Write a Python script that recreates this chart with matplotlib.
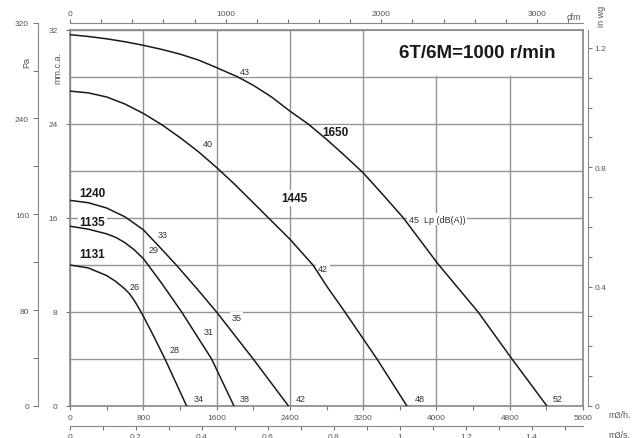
import matplotlib.pyplot as plt
from matplotlib.patches import Rectangle
from matplotlib.ticker import MultipleLocator, FuncFormatter

plt.rcParams['font.family'] = ['Liberation Sans', 'DejaVu Sans']

# curvas caudal (m3/h) - presion (mm.c.a.)
flow_1650 = [0, 200, 400, 600, 800, 1000, 1200, 1400, 1600, 1833, 2000, 2200, 2400, 2600, 2800, 3000,
             3200, 3420, 3640, 4016, 4455, 4825, 5206]
pres_1650 = [31.6, 31.45, 31.25, 31.0, 30.7, 30.35, 29.95, 29.45, 28.8, 28.0, 27.3, 26.3, 25.1, 24.0, 22.7, 21.3,
             19.85, 17.95, 16.0, 12.1, 8.0, 4.0, 0.0]

flow_1445 = [0, 200, 400, 600, 800, 1000, 1200, 1400, 1600, 1800, 2000, 2200, 2400, 2652, 2820, 3001, 3351, 3678]
pres_1445 = [26.8, 26.65, 26.3, 25.7, 24.9, 23.95, 22.85, 21.65, 20.3, 18.85, 17.3, 15.75, 14.2, 12.0, 10.0, 8.0, 4.0, 0.0]

flow_1240 = [0, 200, 400, 600, 800, 1000, 1160, 1389, 1600, 2000, 2385]
pres_1240 = [17.5, 17.3, 16.85, 16.1, 15.0, 13.35, 12.0, 9.95, 8.0, 4.0, 0.0]

flow_1135 = [0, 200, 400, 500, 600, 700, 800, 900, 1000, 1219, 1546, 1790]
pres_1135 = [15.3, 15.05, 14.65, 14.35, 13.9, 13.3, 12.55, 11.5, 10.45, 8.0, 4.0, 0.0]

flow_1131 = [0, 200, 400, 500, 600, 650, 700, 750, 800, 850, 900, 1037, 1273]
pres_1131 = [12.0, 11.75, 11.1, 10.6, 9.95, 9.55, 9.0, 8.35, 7.65, 6.9, 6.15, 4.0, 0.0]

curves = [(flow_1650, pres_1650), (flow_1445, pres_1445), (flow_1240, pres_1240),
          (flow_1135, pres_1135), (flow_1131, pres_1131)]

# nivel sonoro Lp dB(A) sobre las curvas
lp_labels = [('43', 1855, 28.5), ('40', 1448, 22.3), ('45  Lp (dB(A))', 3700, 15.9),
             ('42', 2707, 11.7), ('33', 953, 14.6), ('29', 855, 13.3), ('26', 655, 10.2),
             ('35', 1764, 7.5), ('31', 1455, 6.3), ('28', 1091, 4.8),
             ('34', 1346, 0.6), ('38', 1855, 0.6), ('42', 2467, 0.6), ('48', 3766, 0.6), ('52', 5270, 0.6)]
model_labels = [('1650', 2750, 23.3), ('1445', 2310, 17.7), ('1240', 102, 18.1),
                ('1135', 102, 15.7), ('1131', 102, 12.9)]
title = '6T/6M=1000 r/min'

W, H = 635, 439
fig = plt.figure(figsize=(W / 100, H / 100), dpi=100)
ax = fig.add_axes([70 / W, 32 / H, 513 / W, 376 / H])
ax.set_xlim(0, 5600)
ax.set_ylim(0, 32)

gc = '#939393'
tc = '#555555'
ax.set_axisbelow(True)
ax.xaxis.set_major_locator(MultipleLocator(800))
ax.xaxis.set_minor_locator(MultipleLocator(400))
ax.yaxis.set_major_locator(MultipleLocator(8))
ax.yaxis.set_minor_locator(MultipleLocator(4))
ax.grid(True, which='major', color=gc, lw=1.0)
ax.grid(True, which='minor', axis='y', color=gc, lw=1.0)
ax.tick_params(axis='both', which='both', labelsize=6, labelcolor=tc, color='#777777', width=0.8, direction='out')
ax.tick_params(axis='x', which='both', length=3, pad=2.5)
ax.tick_params(axis='y', which='major', length=3, pad=6)
ax.tick_params(axis='y', which='minor', length=0)
for s in ax.spines.values():
    s.set_color('#888888')
    s.set_linewidth(1.2)

# tapa de la rejilla tras el titulo
ax.add_patch(Rectangle((3215, 28.12), 2370, 3.83, facecolor='white', edgecolor='none', zorder=1))

for q, p in curves:
    ax.plot(q, p, color='#1a1a1a', lw=1.1, zorder=3, solid_joinstyle='round')

box = dict(facecolor='white', edgecolor='none', pad=1.2)
for t, x, y in lp_labels:
    ax.text(x, y, t, fontsize=6.5, color='#333333', ha='left', va='center', zorder=2, bbox=box)
for t, x, y in model_labels:
    ax.text(x, y, t, fontsize=8.5, fontweight='bold', color='#1a1a1a', ha='left', va='center', zorder=2, bbox=box)
ax.text(4443, 30.1, title, fontsize=13.5, fontweight='bold', color='#1a1a1a', ha='center', va='center', zorder=2)

fmt = FuncFormatter(lambda v, pos: '%g' % round(v, 3))

# cfm arriba
top = ax.secondary_xaxis(1 + 7 / 376, functions=(lambda q: q / 1.699, lambda c: c * 1.699))
top.xaxis.set_major_locator(MultipleLocator(1000))
top.xaxis.set_minor_locator(MultipleLocator(200))
top.tick_params(which='both', length=3, labelsize=6, labelcolor=tc, color='#777777', width=0.8, pad=1.5)
top.spines['top'].set_color('#888888')

# m3/s abajo
bot = ax.secondary_xaxis(-20 / 376, functions=(lambda q: q / 3600, lambda s: s * 3600))
bot.xaxis.set_major_locator(MultipleLocator(0.2))
bot.xaxis.set_minor_locator(MultipleLocator(0.1))
bot.xaxis.set_major_formatter(fmt)
bot.tick_params(which='both', length=3, labelsize=6, labelcolor=tc, color='#777777', width=0.8, pad=2)
bot.spines['bottom'].set_color('#888888')

# in wg a la derecha
rgt = ax.secondary_yaxis(1 + 5 / 513, functions=(lambda m: m / 25.4, lambda w: w * 25.4))
rgt.yaxis.set_major_locator(MultipleLocator(0.4))
rgt.yaxis.set_minor_locator(MultipleLocator(0.1))
rgt.yaxis.set_major_formatter(fmt)
rgt.tick_params(which='both', length=3, labelsize=6, labelcolor=tc, color='#777777', width=0.8, pad=1.5)
rgt.spines['right'].set_color('#888888')

# Pa a la izquierda
pa_h = 376 * (320 / 9.80665) / 32
axp = fig.add_axes([38 / W, 32 / H, 1 / W, pa_h / H])
axp.set_ylim(0, 320)
axp.patch.set_visible(False)
for k in ['top', 'right', 'bottom']:
    axp.spines[k].set_visible(False)
axp.spines['left'].set_color('#888888')
axp.set_xticks([])
axp.yaxis.set_major_locator(MultipleLocator(80))
axp.yaxis.set_minor_locator(MultipleLocator(40))
axp.tick_params(which='both', length=3.5, labelsize=6, labelcolor=tc, color='#777777', width=0.8, pad=3)

fig.text(27 / W, 1 - 62 / H, 'Pa', fontsize=6.5, color=tc, rotation=90, ha='center', va='center')
fig.text(58 / W, 1 - 68 / H, 'mm.c.a.', fontsize=6.5, color=tc, rotation=90, ha='center', va='center')
fig.text(601 / W, 1 - 16 / H, 'in wg', fontsize=6.5, color=tc, rotation=90, ha='center', va='center')
fig.text(567 / W, 1 - 17 / H, 'cfm', fontsize=6.5, color=tc, ha='left', va='center')
fig.text(608 / W, 1 - 416 / H, 'm3/h.', fontsize=6.5, color=tc, ha='left', va='center')
fig.text(608 / W, 1 - 436 / H, 'm3/s.', fontsize=6.5, color=tc, ha='left', va='center')

fig.savefig('out.png', dpi=100)
